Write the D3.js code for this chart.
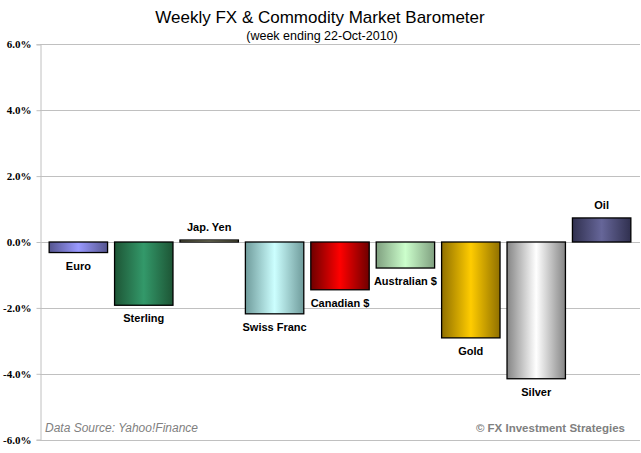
<!DOCTYPE html>
<html>
<head>
<meta charset="utf-8">
<script src="https://cdn.jsdelivr.net/npm/d3@7"></script>
<style>
  body { margin: 0; background: #fff; }
  svg { display: block; }
</style>
</head>
<body>
<script>
// weekly change, percent
var categories = ["Euro", "Sterling", "Jap. Yen", "Swiss Franc", "Canadian $", "Australian $", "Gold", "Silver", "Oil"];
var changes = [-0.32, -1.92, 0.06, -2.18, -1.45, -0.79, -2.91, -4.15, 0.73];
var yTicks = [-6, -4, -2, 0, 2, 4, 6];
// gradient colours per bar: edge, centre
var edgeColors = ["#55558f", "#1d5535", "#9a9a70", "#6f9b9b", "#6e0000", "#7f9f7f", "#907000", "#858585", "#30304f"];
var midColors = ["#9999ff", "#33996a", "#ffffcc", "#ccffff", "#ff0000", "#ccffcc", "#ffcc00", "#ffffff", "#666699"];

var W = 641, H = 453;
var margin = {top: 44, right: 1, bottom: 12, left: 40};

var svg = d3.select("body").append("svg")
    .attr("width", W)
    .attr("height", H);

var defs = svg.append("defs");
categories.forEach(function(c, i) {
  var g = defs.append("linearGradient")
      .attr("id", "grad" + i)
      .attr("x1", "0%").attr("x2", "100%")
      .attr("y1", "0%").attr("y2", "0%");
  g.append("stop").attr("offset", "0%").attr("stop-color", edgeColors[i]);
  g.append("stop").attr("offset", "50%").attr("stop-color", midColors[i]);
  g.append("stop").attr("offset", "100%").attr("stop-color", edgeColors[i]);
});

var xScale = d3.scaleBand()
    .domain(categories)
    .range([margin.left, W - margin.right])
    .paddingInner(0.107)
    .paddingOuter(0.14);

var yScale = d3.scaleLinear()
    .domain([-6, 6])
    .range([H - margin.bottom - 1.3, margin.top + 0.3]);

// gridlines
svg.append("g")
    .selectAll("line")
    .data(yTicks)
    .enter().append("line")
    .attr("x1", margin.left)
    .attr("x2", W - margin.right)
    .attr("y1", function(d) { return Math.round(yScale(d)) + 0.5; })
    .attr("y2", function(d) { return Math.round(yScale(d)) + 0.5; })
    .style("stroke", "#c0c0c0")
    .style("stroke-width", 1);

// y axis
var yAxis = svg.append("g")
    .attr("transform", "translate(" + (margin.left + 0.5) + ",0)")
    .call(d3.axisLeft(yScale)
      .tickValues(yTicks)
      .tickSize(4)
      .tickFormat(function(d) { return d.toFixed(1) + "%"; }));
yAxis.select(".domain").style("stroke", "#c0c0c0");
yAxis.selectAll(".tick line").style("stroke", "#c0c0c0");
yAxis.selectAll(".tick text")
    .attr("x", -9)
    .style("font-family", "'Liberation Serif', 'Times New Roman', serif")
    .style("font-weight", "bold")
    .style("font-size", "11px")
    .style("fill", "#000");

// bars
svg.append("g")
    .selectAll("rect")
    .data(changes)
    .enter().append("rect")
    .attr("x", function(d, i) { return xScale(categories[i]); })
    .attr("y", function(d) { return yScale(Math.max(0, d)); })
    .attr("width", xScale.bandwidth())
    .attr("height", function(d) { return Math.abs(yScale(d) - yScale(0)); })
    .style("fill", function(d, i) { return "url(#grad" + i + ")"; })
    .style("stroke", "#000")
    .style("stroke-width", 1.3);

// bar labels
svg.append("g")
    .selectAll("text")
    .data(changes)
    .enter().append("text")
    .attr("x", function(d, i) { return xScale(categories[i]) + xScale.bandwidth() / 2; })
    .attr("y", function(d) { return d < 0 ? yScale(d) + 17 : yScale(d) - 9; })
    .style("text-anchor", "middle")
    .style("font-family", "'Liberation Sans', Arial, sans-serif")
    .style("font-weight", "bold")
    .style("font-size", "11px")
    .text(function(d, i) { return categories[i]; });

// titles
svg.append("text")
    .attr("x", 320).attr("y", 23)
    .style("text-anchor", "middle")
    .style("font-family", "'Liberation Sans', Arial, sans-serif")
    .style("font-size", "17px")
    .text("Weekly FX & Commodity Market Barometer");

svg.append("text")
    .attr("x", 322).attr("y", 40)
    .style("text-anchor", "middle")
    .style("font-family", "'Liberation Sans', Arial, sans-serif")
    .style("font-size", "12.5px")
    .text("(week ending 22-Oct-2010)");

svg.append("text")
    .attr("x", 45).attr("y", 432)
    .style("font-family", "'Liberation Sans', Arial, sans-serif")
    .style("font-style", "italic")
    .style("font-size", "12px")
    .style("fill", "#808080")
    .text("Data Source: Yahoo!Finance");

svg.append("text")
    .attr("x", 625).attr("y", 432)
    .style("text-anchor", "end")
    .style("font-family", "'Liberation Sans', Arial, sans-serif")
    .style("font-weight", "bold")
    .style("font-size", "11.5px")
    .style("fill", "#808080")
    .text("\u00a9 FX Investment Strategies");
</script>
</body>
</html>
